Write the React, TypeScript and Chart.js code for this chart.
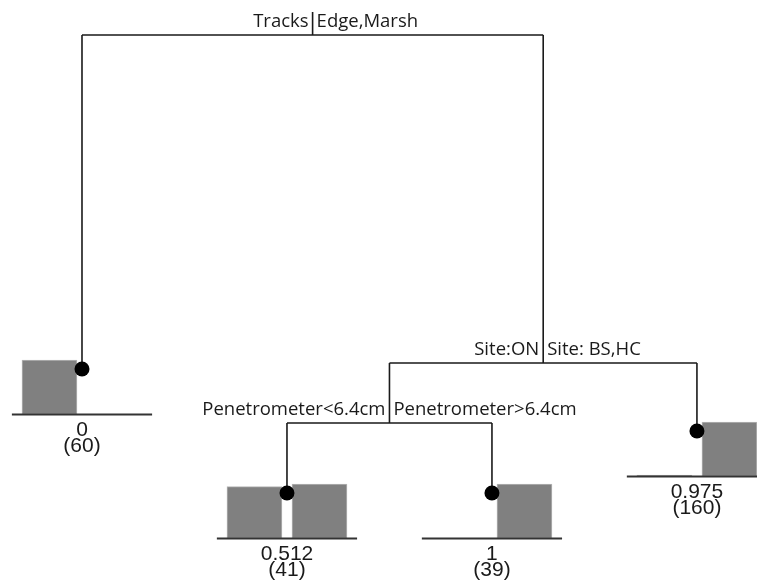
import React, { useEffect, useRef } from 'react';
import { Chart, registerables } from 'chart.js';

Chart.register(...registerables);

// ---- tree data (rpart-style node numbering: children of k are 2k and 2k+1)
const nodeIds = [1, 2, 3, 6, 7, 12, 13];
// vertical position of each node on the deviance-style axis (0 = root)
const nodeDepths = [0, 33.4, 32.8, 38.8, 39.6, 45.8, 45.8];

const splitNodeIds = [1, 3, 6];
const splitLeftLabels = ['Tracks', 'Site:ON', 'Penetrometer<6.4cm'];
const splitRightLabels = ['Edge,Marsh', 'Site: BS,HC', 'Penetrometer>6.4cm'];

const leafNodeIds = [2, 7, 12, 13];
const leafMeans = ['0', '0.975', '0.512', '1'];
const leafCounts = [60, 160, 41, 39];
const leafResponse0 = [60, 4, 20, 0];
const leafResponse1 = [0, 156, 21, 39];

// ---- layout helpers (derived from the data above)
const depthOf = (id: number) => nodeDepths[nodeIds.indexOf(id)];
const isLeaf = (id: number) => leafNodeIds.includes(id);

function layoutX(): Record<number, number> {
  const pos: Record<number, number> = {};
  let next = 1;
  const place = (id: number) => {
    if (isLeaf(id)) {
      pos[id] = next++;
      return;
    }
    place(2 * id);
    place(2 * id + 1);
    pos[id] = (pos[2 * id] + pos[2 * id + 1]) / 2;
  };
  place(1);
  return pos;
}

const BAR_ABOVE_DOT = 0.9;
const BASE_BELOW_DOT = 4.55;
const BAR_OFFSET = 0.1586;
const BASE_HALF = 0.342;
const DIVIDER = 2.3;
const LABEL_ABOVE = 1.3;

export default function App() {
  const ref = useRef<HTMLCanvasElement | null>(null);

  useEffect(() => {
    const canvas = ref.current;
    if (!canvas) return;
    const xPos = layoutX();

    const edges: any[] = [];
    const seg = (x1: number, y1: number, x2: number, y2: number) => {
      edges.push({ x: x1, y: y1 }, { x: x2, y: y2 }, { x: x2, y: null });
    };
    splitNodeIds.forEach((id) => {
      const y = depthOf(id);
      const l = 2 * id;
      const r = 2 * id + 1;
      seg(xPos[l], y, xPos[r], y);
      seg(xPos[l], y, xPos[l], depthOf(l));
      seg(xPos[r], y, xPos[r], depthOf(r));
      seg(xPos[id], y, xPos[id], y - DIVIDER);
    });

    const baselines: any[] = [];
    const bars: any[] = [];
    const dots: any[] = [];
    leafNodeIds.forEach((id, i) => {
      const d = depthOf(id);
      const base = d + BASE_BELOW_DOT;
      baselines.push({ x: xPos[id] - BASE_HALF, y: base }, { x: xPos[id] + BASE_HALF, y: base }, { x: xPos[id], y: null });
      const mx = Math.max(leafResponse0[i], leafResponse1[i]);
      const full = BAR_ABOVE_DOT + BASE_BELOW_DOT;
      [leafResponse0[i], leafResponse1[i]].forEach((c, k) => {
        if (c > 0) {
          bars.push({ x: xPos[id] + (k === 0 ? -BAR_OFFSET : BAR_OFFSET), y: [base, base - (c / mx) * full] });
        }
      });
      dots.push({ x: xPos[id], y: d });
    });

    const textPlugin = {
      id: 'treeText',
      afterDatasetsDraw(chart: any) {
        const { ctx } = chart;
        const xs = chart.scales.x;
        const ys = chart.scales.y;
        ctx.save();
        ctx.fillStyle = '#1a1a1a';
        ctx.textBaseline = 'middle';
        ctx.font = '18.5px "Open Sans"';
        splitNodeIds.forEach((id, i) => {
          const px = xs.getPixelForValue(xPos[id]);
          const py = ys.getPixelForValue(depthOf(id) - LABEL_ABOVE);
          ctx.textAlign = 'right';
          ctx.fillText(splitLeftLabels[i], px - 4, py);
          ctx.textAlign = 'left';
          ctx.fillText(splitRightLabels[i], px + 4, py);
        });
        ctx.font = '21px "Liberation Sans"';
        ctx.textAlign = 'center';
        leafNodeIds.forEach((id, i) => {
          const px = xs.getPixelForValue(xPos[id]);
          const base = depthOf(id) + BASE_BELOW_DOT;
          ctx.fillText(leafMeans[i], px, ys.getPixelForValue(base + 1.6));
          ctx.fillText('(' + leafCounts[i] + ')', px, ys.getPixelForValue(base + 3.2));
        });
        ctx.restore();
      },
    };

    const chart = new Chart(canvas, {
      type: 'scatter',
      data: {
        datasets: [
          {
            type: 'scatter',
            data: dots,
            pointRadius: 7.5,
            pointBackgroundColor: '#000',
            pointBorderWidth: 0,
            order: 0,
          } as any,
          {
            type: 'scatter',
            data: edges,
            showLine: true,
            spanGaps: false,
            pointRadius: 0,
            borderColor: '#1a1a1a',
            borderWidth: 1.6,
            order: 1,
          } as any,
          {
            type: 'scatter',
            data: baselines,
            showLine: true,
            spanGaps: false,
            pointRadius: 0,
            borderColor: '#333',
            borderWidth: 2,
            order: 2,
          } as any,
          {
            type: 'bar',
            data: bars,
            backgroundColor: '#808080',
            borderColor: '#b5b5b5',
            borderWidth: 1,
            borderSkipped: false,
            barThickness: 55,
            grouped: false,
            order: 3,
          } as any,
        ],
      },
      options: {
        responsive: false,
        animation: false,
        layout: { padding: 0, autoPadding: false },
        plugins: { legend: { display: false }, tooltip: { enabled: false } },
        scales: {
          x: { type: 'linear', min: 0.6, max: 4.293, display: false, offset: false },
          y: { type: 'linear', min: -3.5, max: 55, reverse: true, display: false },
        },
      },
      plugins: [textPlugin],
    } as any);
    return () => chart.destroy();
  }, []);

  return (
    <div style={{ position: 'fixed', left: 0, top: 0, width: 757, height: 585, background: '#fff' }}>
      <canvas ref={ref} width={757} height={585} />
    </div>
  );
}
